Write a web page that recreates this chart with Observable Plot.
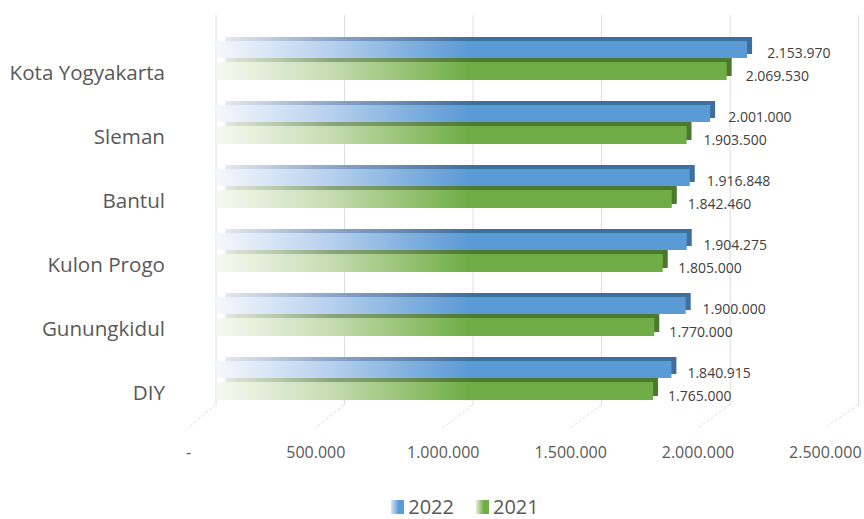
<!DOCTYPE html>
<html>
<head>
<meta charset="utf-8">
<script src="https://cdn.jsdelivr.net/npm/d3@7"></script>
<script src="https://cdn.jsdelivr.net/npm/@observablehq/plot@0.6"></script>
<style>
  html, body { margin: 0; padding: 0; background: #ffffff; }
  #wrap { width: 864px; height: 519px; position: relative; font-family: "Open Sans", sans-serif; }
  #legend { height: 39px; box-sizing: border-box; padding-top: 15px; display: flex; justify-content: center;
            padding-left: 66px; align-items: center; font-size: 20px; line-height: 24px; color: #595959; }
  .item { display: flex; align-items: center; margin: 0 11px; }
  .sw { width: 13px; height: 14px; margin-right: 4px; }
</style>
</head>
<body>
<div id="wrap"><div id="chart"></div><div id="legend"></div></div>
<script>
// ---- data ----
const categories = ["Kota Yogyakarta", "Sleman", "Bantul", "Kulon Progo", "Gunungkidul", "DIY"];
const values2022 = [2153970, 2001000, 1916848, 1904275, 1900000, 1840915];
const values2021 = [2069530, 1903500, 1842460, 1805000, 1770000, 1765000];
const seriesNames = ["2022", "2021"];
const xTicks = [0, 500000, 1000000, 1500000, 2000000, 2500000];
const tickLabels = ["-", "500.000", "1.000.000", "1.500.000", "2.000.000", "2.500.000"];

const rows = categories.map((c, i) => ({cat: c, v22: values2022[i], v21: values2021[i]}));
const fmt = d3.formatLocale({decimal: ",", thousands: ".", grouping: [3], currency: ["", ""]}).format(",d");

// 3D perspective helpers: back wall and front floor edge are projected from the bar plane
const project = (shift, k) => (x, x0) => x0 + shift + (x - x0) * k;
const toWall = project(-11, 1.0637);
const toFront = project(-38.5, 1.054);
const persp = (fn) => (index, scales, values, dims, ctx, next) => {
  const x0 = scales.x(0);
  const nv = Object.assign({}, values);
  if (values.x) nv.x = Array.from(values.x, (x) => fn(x, x0));
  return next(index, scales, nv, dims, ctx);
};
const floorLines = (index, scales, values, dims) => {
  const x0 = scales.x(0);
  const yb = dims.height - dims.marginBottom;
  const g = d3.create("svg:g").attr("stroke", "#dcdcdc").attr("stroke-width", 1).attr("stroke-dasharray", "3,2");
  for (const i of index) {
    const x = values.x[i];
    g.append("line").attr("x1", toWall(x, x0)).attr("y1", yb - 23).attr("x2", toFront(x, x0)).attr("y2", yb);
  }
  return g.node();
};

const chart = Plot.plot({
  width: 864,
  height: 480,
  marginLeft: 226.5,
  marginRight: 33.3,
  marginTop: 13,
  marginBottom: 52,
  style: {fontFamily: "Open Sans, sans-serif", background: "#ffffff", color: "#595959"},
  x: {domain: [0, 2500000], axis: null},
  y: {domain: categories, padding: 0.385},
  marks: [
    Plot.ruleX(xTicks, {x: (d) => d, stroke: "#dedede", insetTop: 2, insetBottom: 23, render: persp(toWall)}),
    Plot.ruleX(xTicks, {x: (d) => d, render: floorLines}),
    // back / side faces (3D depth)
    Plot.barX(rows, {x: "v21", y: "cat", insetTop: 21, insetLeft: -6, dx: 5, dy: -4, fill: "url(#greenBack)"}),
    Plot.barX(rows, {x: "v22", y: "cat", insetBottom: 22, insetLeft: -6, dx: 5, dy: -4, fill: "url(#blueBack)"}),
    // front faces
    Plot.barX(rows, {x: "v21", y: "cat", insetTop: 21, insetLeft: -10, fill: "url(#greenFront)"}),
    Plot.barX(rows, {x: "v22", y: "cat", insetBottom: 22, insetLeft: -10, fill: "url(#blueFront)"}),
    // value labels
    Plot.text(rows, {x: "v22", y: "cat", text: (d) => fmt(d.v22), dx: 30, dy: -7.5, textAnchor: "start",
      fontSize: 14, fill: "#404040", render: persp(toFront)}),
    Plot.text(rows, {x: "v21", y: "cat", text: (d) => fmt(d.v21), dx: 30, dy: 16, textAnchor: "start",
      fontSize: 14, fill: "#404040", render: persp(toFront)}),
    // x tick labels on the front floor edge
    Plot.text(xTicks, {x: (d) => d, text: (d, i) => tickLabels[i], frameAnchor: "bottom", dy: 24,
      lineAnchor: "middle", fontSize: 16, fill: "#595959", render: persp(toFront)}),
    Plot.axisY({tickSize: 0, tickPadding: 62, dy: 12.5, fontSize: 20.6, fill: "#595959", label: null})
  ]
});

// gradients (horizontal, in plot pixel space)
const xs = chart.scale("x");
const gx0 = xs.apply(0) - 12, gx1 = xs.apply(1000000);
const defs = d3.select(chart).insert("defs", ":first-child");
const grads = {
  blueFront: [["0", "#f6f9fd"], ["0.45", "#b8d1ee"], ["0.8", "#7badde"], ["1", "#5b9bd5"]],
  greenFront: [["0", "#f7faf3"], ["0.45", "#c7ddb2"], ["0.8", "#8fbf6c"], ["1", "#70ad47"]],
  blueBack: [["0", "#e6ecf3"], ["0.45", "#8aa5c6"], ["1", "#3f6f9c"]],
  greenBack: [["0", "#e6ece1"], ["0.45", "#8aa578"], ["1", "#4b7a2f"]]
};
for (const [id, stops] of Object.entries(grads)) {
  const lg = defs.append("linearGradient").attr("id", id).attr("gradientUnits", "userSpaceOnUse")
    .attr("x1", gx0).attr("x2", gx1).attr("y1", 0).attr("y2", 0);
  for (const [o, c] of stops) lg.append("stop").attr("offset", o).attr("stop-color", c);
}
document.getElementById("chart").appendChild(chart);

// legend
const swatchGrad = ["linear-gradient(to right, #d6e6f6, #5b9bd5 60%)", "linear-gradient(to right, #e3eed9, #70ad47 60%)"];
const legend = d3.select("#legend");
seriesNames.forEach((name, i) => {
  const it = legend.append("div").attr("class", "item");
  it.append("div").attr("class", "sw").style("background", swatchGrad[i]);
  it.append("span").text(name);
});
</script>
</body>
</html>
